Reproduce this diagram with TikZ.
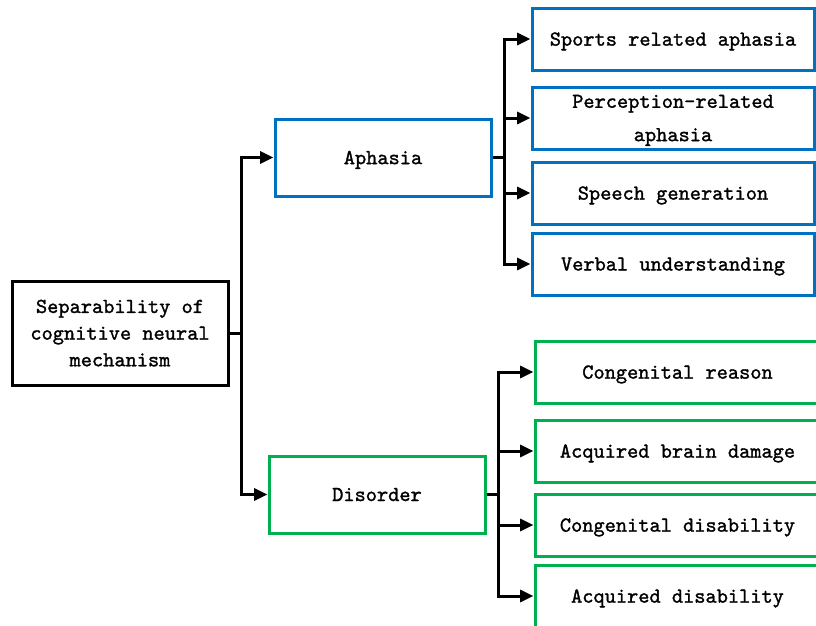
\documentclass[tikz,border=0pt]{standalone}
\usepackage{fontspec}
\newfontfamily\boxfont[FakeBold=1.3]{lmmono10-regular.otf}
\usetikzlibrary{arrows.meta}
\definecolor{bblue}{HTML}{0070C0}
\definecolor{bgreen}{HTML}{00B050}
\begin{document}
\begin{tikzpicture}[x=0.75pt,y=-0.75pt,
  box/.style={draw, line width=2.25pt, fill=white, align=center, inner sep=0pt, text depth=0pt,
    font=\boxfont\fontsize{16}{20}\selectfont},
  conn/.style={line width=2.25pt, -{Triangle[length=10pt,width=9pt]}},
  wire/.style={line width=2.25pt}]
\clip (0,0) rectangle (816,625);
\fill[white] (0,0) rectangle (816,625);
% main nodes
\node[box, draw=black, minimum width=162pt, minimum height=78pt] (root) at (120,333)
  {Separability of\\cognitive neural\\mechanism};
\node[box, draw=bblue, minimum width=162pt, minimum height=57.75pt] (aph) at (383,157.5) {Aphasia};
\node[box, draw=bgreen, minimum width=162pt, minimum height=57.75pt] (dis) at (377,494.5) {Disorder};
% blue children
\node[box, draw=bblue, minimum width=211.5pt, minimum height=46.5pt] (a1) at (673,39) {Sports related aphasia};
\node[box, draw=bblue, minimum width=211.5pt, minimum height=46.5pt,
  font=\boxfont\fontsize{16}{25}\selectfont] (a2) at (673,118) {Perception-related\\aphasia};
\node[box, draw=bblue, minimum width=211.5pt, minimum height=46.5pt] (a3) at (673,193) {Speech generation};
\node[box, draw=bblue, minimum width=211.5pt, minimum height=46.5pt] (a4) at (673,264) {Verbal understanding};
% green children
\node[box, draw=bgreen, minimum width=213.75pt, minimum height=46.5pt] (d1) at (677.5,372) {Congenital reason};
\node[box, draw=bgreen, minimum width=213.75pt, minimum height=46.5pt] (d2) at (677.5,451) {Acquired brain damage};
\node[box, draw=bgreen, minimum width=213.75pt, minimum height=46.5pt] (d3) at (677.5,525) {Congenital disability};
\node[box, draw=bgreen, minimum width=213.75pt, minimum height=46.5pt] (d4) at (677.5,596) {Acquired disability};
% junctions
\coordinate (j0) at (241,333);
\coordinate (j1) at (504,157.5);
\coordinate (j2) at (498,494.5);
% root connectors
\draw[wire] (root.east) -- (j0);
\draw[conn] (j0) |- (aph.west);
\draw[conn] (j0) |- (dis.west);
% aphasia connectors
\draw[wire] (aph.east) -- (j1);
\draw[conn] (j1) |- (a1.west);
\draw[conn] (j1) |- (a2.west);
\draw[conn] (j1) |- (a3.west);
\draw[conn] (j1) |- (a4.west);
% disorder connectors
\draw[wire] (dis.east) -- (j2);
\draw[conn] (j2) |- (d1.west);
\draw[conn] (j2) |- (d2.west);
\draw[conn] (j2) |- (d3.west);
\draw[conn] (j2) |- (d4.west);
\end{tikzpicture}
\end{document}
